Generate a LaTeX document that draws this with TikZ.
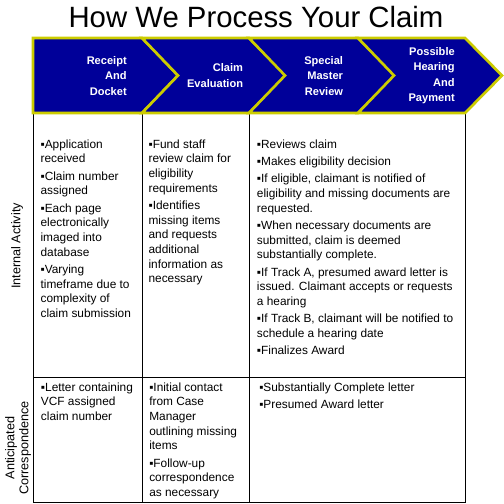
\documentclass[tikz,border=0pt]{standalone}
\usepackage{fontspec}
\setmainfont{Liberation Sans}
\usepackage{tikz}

\definecolor{stageblue}{HTML}{000099}
\definecolor{stageyellow}{HTML}{CCCC00}
\newcommand{\bul}{▪}

\tikzset{
    stage/.style={fill=stageblue, draw=stageyellow, line width=2pt, line join=miter},
    stagetext/.style={anchor=east, align=right, inner sep=0, text=white,
        font=\bfseries\fontsize{8.3}{11.6}\selectfont},
    celltext/.style={anchor=north west, align=left, inner sep=0,
        font=\fontsize{8.9}{11}\selectfont},
    rowlabel/.style={rotate=90, align=center, inner sep=0,
        font=\fontsize{9.5}{10.5}\selectfont}
}

\begin{document}
\begin{tikzpicture}[x=0.75pt, y=-0.75pt]
    \useasboundingbox (0,0) rectangle (504,504);
    \node[anchor=base, inner sep=0, font=\fontsize{22}{26}\selectfont]
        (title) at (256,27) {How We Process Your Claim};
    \begin{scope} % Table
        \draw (33,113) rectangle (465,502);
        \draw (33,377) -- (465,377);
        \foreach \x in {142, 249}
            \draw (\x,113) -- (\x,502);
    \end{scope}
    \begin{scope} % Stages
        \filldraw[stage] (33,38) -- (142,38) -- ++(36,37.5) --
            (142,113) -- (33,113) -- cycle;
        \foreach \l/\r in {142/249, 249/358, 358/465}
            \filldraw[stage] (\l,38) -- (\r,38) -- ++(37,37.5) --
                (\r,113) -- (\l,113) -- ++(36,-37.5) -- cycle;
        \node[stagetext] (receipt) at (127,75.7) {Receipt\\And\\Docket};
        \node[stagetext] (evaluation) at (243.3,75.7) {Claim\\Evaluation};
        \node[stagetext] (review) at (343.3,75.7) {Special\\Master\\Review};
        \node[stagetext] (payment) at (455,75.7) {Possible\\Hearing\\And\\Payment};
    \end{scope}
    \begin{scope} % Row labels
        \node[rowlabel] (internal) at (17,246) {Internal Activity};
        \node[rowlabel] (corresp) at (18,448) {Anticipated\\Correspondence};
    \end{scope}
    \begin{scope} % Internal activity
        \node[celltext] (docket) at (40.3,139.3) {\bul Application\\received\\[2pt]
            \bul Claim number\\assigned\\[2pt]
            \bul Each page\\electronically\\imaged into\\database\\[2pt]
            \bul Varying\\timeframe due to\\complexity of\\claim submission};
        \node[celltext] (staff) at (148.3,139.3) {\bul Fund staff\\review claim for\\eligibility\\requirements\\[2pt]
            \bul Identifies\\missing items\\and requests\\additional\\information as\\necessary};
        \node[celltext] (master) at (256.7,139.3) {\bul Reviews claim\\[2pt]
            \bul Makes eligibility decision\\[2pt]
            \bul If eligible, claimant is notified of\\eligibility and missing documents are\\requested.\\[2pt]
            \bul When necessary documents are\\submitted, claim is deemed\\substantially complete.\\[2pt]
            \bul If Track A, presumed award letter is\\issued. Claimant accepts or requests\\a hearing\\[2pt]
            \bul If Track B, claimant will be notified to\\schedule a hearing date\\[2pt]
            \bul Finalizes Award};
    \end{scope}
    \begin{scope} % Anticipated correspondence
        \node[celltext] (letter) at (40.7,382.3) {\bul Letter containing\\VCF assigned\\claim number};
        \node[celltext] (contact) at (149,382.3) {\bul Initial contact\\from Case\\Manager\\outlining missing\\items\\[2pt]
            \bul Follow-up\\correspondence\\as necessary};
        \node[celltext] (award) at (259,382.3) {\bul Substantially Complete letter\\[2pt]
            \bul Presumed Award letter};
    \end{scope}
\end{tikzpicture}
\end{document}
